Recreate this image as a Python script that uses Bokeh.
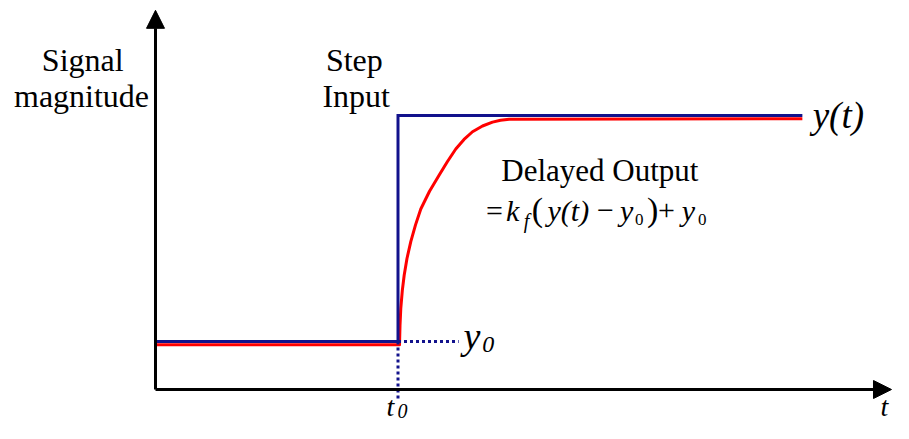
from bokeh.plotting import figure
from bokeh.models import Range1d, Arrow, NormalHead
from bokeh.core.properties import value
from bokeh.embed import file_html
from bokeh.resources import INLINE

# ---------------- data (time units / signal units) ----------------
t0 = 4.0            # step time
y0 = 1.0            # initial level
y_final = 5.71      # level after the step
t_end = 10.67       # end of drawn signals

input_t = [0.0, 4.0, 4.0, 10.67]
input_v = [1.0, 1.0, 5.71, 5.71]

output_t = [0.0, 4.025, 4.033, 4.046, 4.071, 4.102, 4.148, 4.211, 4.289, 4.376, 4.520,
            4.680, 4.816, 4.953, 5.089, 5.229, 5.394, 5.559, 5.691, 5.834, 10.67]
output_v = [0.93, 0.93, 1.33, 1.69, 2.06, 2.38, 2.73, 3.08, 3.43, 3.76, 4.13,
            4.47, 4.75, 5.01, 5.21, 5.37, 5.49, 5.57, 5.61, 5.63, 5.64]

guide_h_t = [4.0, 5.0]
guide_h_v = [1.0, 1.0]
guide_v_t = [4.0, 4.0]
guide_v_v = [1.0, -0.20]

axis_t_max = 12.14
axis_v_max = 7.90

# ---------------- figure ----------------
PX_T = 60.625   # pixels per time unit
PX_V = 48.0     # pixels per signal unit
W, H = 893, 423
ORIG_X, ORIG_Y = 155, 389   # origin in figure pixels (from left, from top)

p = figure(width=W, height=H, output_backend="svg", toolbar_location=None,
           x_range=Range1d(-ORIG_X / PX_T, (W - ORIG_X) / PX_T),
           y_range=Range1d(-(H - ORIG_Y) / PX_V, ORIG_Y / PX_V),
           x_axis_type=None, y_axis_type=None, min_border=0)
p.grid.visible = False
p.outline_line_color = None
p.background_fill_color = "white"
p.border_fill_color = "white"

BLUE = "#12128c"
RED = "#ff0000"
SERIF = value("Liberation Serif")
BASELINE_FIX = 0.36   # em; the text renderer sits the alphabetic baseline this much lower

# axes as arrows
for xe, ye in [(axis_t_max, 0.0), (0.0, axis_v_max)]:
    p.add_layout(Arrow(end=NormalHead(size=18, fill_color="black", line_color="black", line_width=1),
                       x_start=0.0, y_start=0.0, x_end=xe, y_end=ye,
                       line_width=3, line_color="black"))

# signals
p.line(output_t, output_v, line_color=RED, line_width=3, line_join="round")
p.line(input_t, input_v, line_color=BLUE, line_width=3, line_join="miter")

# dotted guides
p.line(guide_h_t, guide_h_v, line_color=BLUE, line_width=3, line_dash="3 3")
p.line(guide_v_t, guide_v_v, line_color=BLUE, line_width=3, line_dash="3 3")


def lab(text, x, y, size, style="normal", align="left"):
    yy = y + BASELINE_FIX * size / PX_V
    p.text(x=[x], y=[yy], text=[text], text_font=SERIF, text_font_size=f"{size}px",
           text_font_style=style, text_align=align, text_baseline="alphabetic",
           text_color="black")


# left title
lab("Signal", -1.20, 6.62, 32, align="center")
lab("magnitude", -1.22, 5.87, 32, align="center")
# step input
lab("Step", 3.28, 6.62, 32, align="center")
lab("Input", 3.31, 5.87, 32, align="center")
# delayed output
lab("Delayed Output", 7.33, 4.33, 31, align="center")

# formula pieces: (text, x centre, baseline, size, style)
formula = [
    ("=", 5.59, 3.50, 30, "normal"),
    ("k", 5.89, 3.50, 30, "italic"),
    ("f", 6.12, 3.36, 20, "italic"),
    ("(", 6.30, 3.50, 34, "normal"),
    ("y(t)", 6.81, 3.50, 30, "italic"),
    ("\u2212", 7.42, 3.50, 30, "normal"),
    ("y", 7.77, 3.50, 30, "italic"),
    ("0", 7.98, 3.42, 17, "normal"),
    (")", 8.20, 3.50, 34, "normal"),
    ("+", 8.43, 3.50, 30, "normal"),
    ("y", 8.79, 3.50, 30, "italic"),
    ("0", 9.02, 3.42, 17, "normal"),
]
for txt, x, y, s, st in formula:
    lab(txt, x, y, s, st, align="center")

# y(t) label
lab("y(t)", t_end + 0.17, 5.44, 37, "italic")
# y0 label
lab("y", 5.08, 0.83, 38, "italic")
lab("0", 5.39, 0.75, 24, "italic")
# t0 label
lab("t", 3.81, -0.56, 28, "italic")
lab("0", 3.99, -0.60, 20, "italic")
# t at end of time axis
lab("t", 11.96, -0.56, 28, "italic")

open("out.html", "w").write(file_html(p, INLINE))
